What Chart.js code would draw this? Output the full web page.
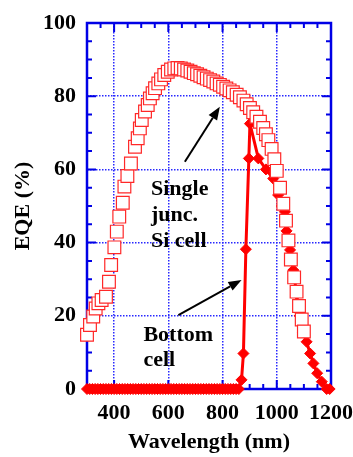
<!DOCTYPE html>
<html>
<head>
<meta charset="utf-8">
<script src="https://cdn.jsdelivr.net/npm/chart.js@4/dist/chart.umd.min.js"></script>
<style>
  html, body { margin: 0; padding: 0; background: #fff; }
  #wrap { width: 353px; height: 457px; }
</style>
</head>
<body>
<div id="wrap"><canvas id="eqe"></canvas></div>
<script>
// Single junction Si cell (open squares)
var singleWl = [300, 311, 323, 332, 342, 354, 370, 381, 389, 401,
  410, 419, 432, 438, 449, 462, 477, 487, 495, 502,
  514, 524, 532, 542, 551, 563, 573, 585, 598, 610,
  622, 634, 646, 658, 670, 682, 694, 706, 718, 730,
  742, 754, 766, 778, 790, 802, 814, 826, 838, 852,
  864, 877, 889, 901, 913, 925, 938, 950, 960, 969,
  981, 991, 1000, 1012, 1024, 1034, 1043, 1052, 1064, 1073,
  1082, 1092, 1100];
var singleEqe = [14.8, 17.5, 19.8, 22.0, 23.4, 24.3, 25.2, 29.3, 33.9, 38.7,
  43.0, 47.1, 50.9, 55.3, 58.2, 61.6, 66.2, 68.5, 71.2, 73.5,
  75.8, 77.6, 79.4, 80.8, 82.2, 83.5, 84.6, 85.8, 86.7, 87.3,
  87.6, 87.7, 87.6, 87.3, 87.0, 86.7, 86.3, 86.0, 85.6, 85.2,
  84.8, 84.4, 84.0, 83.5, 83.1, 82.6, 82.1, 81.6, 81.1, 80.4,
  79.7, 78.8, 77.8, 76.8, 75.6, 74.4, 73.0, 71.3, 69.6, 68.0,
  65.6, 62.8, 59.6, 55.0, 50.6, 46.0, 40.6, 35.4, 30.5, 26.6,
  22.7, 19.0, 15.7];

// Bottom cell (filled diamonds with line)
var bottomWl = [300, 310, 320, 330, 340, 350, 360, 370, 380, 390,
  400, 410, 420, 430, 440, 450, 460, 470, 480, 490,
  500, 510, 520, 530, 540, 550, 560, 570, 580, 590,
  600, 610, 620, 630, 640, 650, 660, 670, 680, 690,
  700, 710, 720, 730, 740, 750, 760, 770, 780, 790,
  800, 810, 820, 830, 840, 850, 860,
  870, 877, 886, 897, 901, 932, 960, 987, 1005, 1018,
  1030, 1036, 1049, 1061, 1073, 1085, 1097, 1110, 1123, 1135,
  1149, 1166, 1184, 1195];
var bottomEqe = [0, 0, 0, 0, 0, 0, 0, 0, 0, 0,
  0, 0, 0, 0, 0, 0, 0, 0, 0, 0,
  0, 0, 0, 0, 0, 0, 0, 0, 0, 0,
  0, 0, 0, 0, 0, 0, 0, 0, 0, 0,
  0, 0, 0, 0, 0, 0, 0, 0, 0, 0,
  0, 0, 0, 0, 0, 0, 0,
  2.5, 9.7, 38.2, 63.0, 72.5, 63.0, 60.0, 57.5, 53.0, 50.0,
  48.4, 43.2, 38.0, 32.5, 26.0, 20.0, 15.5, 12.9, 9.7, 7.0,
  4.3, 2.0, 0, 0];

var xTicks = [400, 600, 800, 1000, 1200];
var yTicks = [0, 20, 40, 60, 80, 100];

var serif = '"Liberation Serif", "Times New Roman", serif';
var axisBlue = 'rgb(0, 0, 230)';
var gridBlue = 'rgb(40, 40, 255)';
var red = 'rgb(255, 0, 0)';

function pairs(xs, ys) {
  return xs.map(function (x, i) { return { x: x, y: ys[i] }; });
}

// Blue frame with inward major/minor ticks on all four sides
var frame = {
  id: 'frame',
  beforeDatasetsDraw: function (chart) {
    var ctx = chart.ctx, a = chart.chartArea;
    var xs = chart.scales.x, ys = chart.scales.y;
    ctx.save();
    ctx.strokeStyle = axisBlue;
    ctx.lineWidth = 2;
    ctx.beginPath();
    for (var w = 350; w < 1200; w += 50) {
      var px = xs.getPixelForValue(w);
      var len = (w % 200 === 0) ? 9 : 5;
      ctx.moveTo(px, a.bottom); ctx.lineTo(px, a.bottom - len);
      ctx.moveTo(px, a.top); ctx.lineTo(px, a.top + len);
    }
    for (var v = 5; v < 100; v += 5) {
      var py = ys.getPixelForValue(v);
      var l2 = (v % 20 === 0) ? 9 : 5;
      ctx.moveTo(a.left, py); ctx.lineTo(a.left + l2, py);
      ctx.moveTo(a.right, py); ctx.lineTo(a.right - l2, py);
    }
    ctx.stroke();
    ctx.lineWidth = 2.5;
    ctx.strokeRect(a.left, a.top, a.right - a.left, a.bottom - a.top);
    ctx.restore();
  }
};

function arrow(ctx, x1, y1, x2, y2) {
  var ang = Math.atan2(y2 - y1, x2 - x1);
  var hl = 13, hw = 5;
  var bx = x2 - hl * Math.cos(ang), by = y2 - hl * Math.sin(ang);
  ctx.beginPath();
  ctx.moveTo(x1, y1);
  ctx.lineTo(bx, by);
  ctx.stroke();
  ctx.beginPath();
  ctx.moveTo(x2, y2);
  ctx.lineTo(bx + hw * Math.sin(ang), by - hw * Math.cos(ang));
  ctx.lineTo(bx - hw * Math.sin(ang), by + hw * Math.cos(ang));
  ctx.closePath();
  ctx.fill();
}

// Labels and arrows pointing at each curve
var notes = {
  id: 'notes',
  afterDraw: function (chart) {
    var ctx = chart.ctx, xs = chart.scales.x, ys = chart.scales.y;
    function X(v) { return xs.getPixelForValue(v); }
    function Y(v) { return ys.getPixelForValue(v); }
    ctx.save();
    ctx.fillStyle = '#000';
    ctx.strokeStyle = '#000';
    ctx.lineWidth = 2;
    ctx.font = 'bold 22px ' + serif;
    ctx.textAlign = 'left';
    ctx.textBaseline = 'alphabetic';
    ctx.fillText('Single', X(536), Y(53));
    ctx.fillText('junc.', X(536), Y(53) + 26);
    ctx.fillText('Si cell', X(536), Y(53) + 52);
    ctx.fillText('Bottom', X(508), Y(13));
    ctx.fillText('cell', X(508), Y(13) + 25);
    arrow(ctx, X(661), Y(62.1), X(790), Y(77.1));
    arrow(ctx, X(637), Y(20.2), X(870), Y(29.8));
    ctx.restore();
  }
};

function fitX(s) {
  s.height = 68;
  s.paddingLeft = 0;
  s.paddingRight = 0;
}
function fitY(s) {
  s.width = 87;
  s.paddingTop = 0;
  s.paddingBottom = 0;
}

new Chart(document.getElementById('eqe').getContext('2d'), {
  type: 'scatter',
  data: {
    datasets: [
      {
        label: 'Single junc. Si cell',
        data: pairs(singleWl, singleEqe),
        showLine: false,
        pointStyle: 'rect',
        pointRadius: 9,
        pointBorderWidth: 1.2,
        pointBorderColor: 'rgb(255, 40, 40)',
        pointBackgroundColor: '#fff',
        clip: false
      },
      {
        label: 'Bottom cell',
        data: pairs(bottomWl, bottomEqe),
        showLine: true,
        borderColor: red,
        borderWidth: 3,
        pointStyle: 'rectRot',
        pointRadius: 5.5,
        pointBorderWidth: 1,
        pointBorderColor: red,
        pointBackgroundColor: red,
        clip: false
      }
    ]
  },
  options: {
    responsive: true,
    maintainAspectRatio: false,
    animation: false,
    events: [],
    layout: { padding: { top: 23, right: 22, left: 0, bottom: 0 } },
    plugins: { legend: { display: false }, tooltip: { enabled: false } },
    scales: {
      x: {
        type: 'linear',
        min: 300,
        max: 1200,
        afterFit: fitX,
        afterBuildTicks: function (s) {
          s.ticks = xTicks.map(function (v) { return { value: v }; });
        },
        grid: { color: gridBlue, lineWidth: 1.5, drawTicks: false },
        border: { display: false, dash: [1.5, 1.5] },
        ticks: {
          padding: 11,
          color: '#000',
          maxRotation: 0,
          autoSkip: false,
          callback: function (v) { return String(v); },
          font: { family: serif, size: 22, weight: 'bold' }
        },
        title: {
          display: true,
          text: 'Wavelength (nm)',
          color: '#000',
          padding: { top: 0, bottom: 1 },
          font: { family: serif, size: 22, weight: 'bold' }
        }
      },
      y: {
        type: 'linear',
        min: 0,
        max: 100,
        afterFit: fitY,
        afterBuildTicks: function (s) {
          s.ticks = yTicks.map(function (v) { return { value: v }; });
        },
        grid: { color: gridBlue, lineWidth: 1.5, drawTicks: false },
        border: { display: false, dash: [1.5, 1.5] },
        ticks: {
          padding: 11,
          color: '#000',
          callback: function (v) { return String(v); },
          font: { family: serif, size: 22, weight: 'bold' }
        },
        title: {
          display: true,
          text: 'EQE (%)',
          color: '#000',
          padding: { top: 10, bottom: 0 },
          font: { family: serif, size: 22, weight: 'bold' }
        }
      }
    }
  },
  plugins: [frame, notes]
});
</script>
</body>
</html>
